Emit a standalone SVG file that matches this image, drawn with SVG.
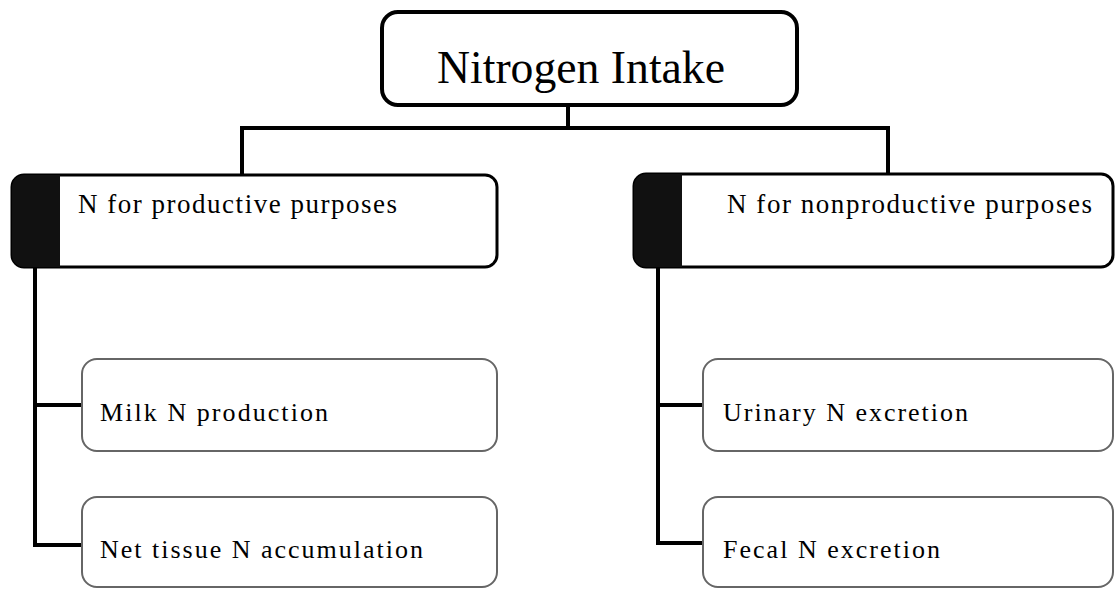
<svg xmlns="http://www.w3.org/2000/svg" width="1115" height="589" viewBox="0 0 1115 589">
<style>
.top{fill:#fff;stroke:#000;stroke-width:4}
.mid{fill:#fff;stroke:#000;stroke-width:3}
.bar{fill:#111}
.sub{fill:#fff;stroke:#666;stroke-width:2}
.conn{fill:none;stroke:#000;stroke-width:4}
text{font-family:'Liberation Serif',Tinos,'Times New Roman',Times,'Noto Serif','DejaVu Serif',FreeSerif,serif;fill:#000}
.t1{font-size:46px}
.t2{font-size:27px}
.t3{font-size:26px}
</style>
<rect width="1115" height="589" fill="#fff"/>
<g id="connectors">
<path class="conn" d="M568 105V128M242 175V128H888V175"/>
<path class="conn" d="M35 267V545H82M35 405H82"/>
<path class="conn" d="M658 267V543H703M658 405H703"/>
</g>
<g id="nitrogen-intake">
<rect class="top" x="382" y="12" width="415" height="93" rx="16"/>
<text class="t1" x="437" y="83" textLength="288" lengthAdjust="spacingAndGlyphs">Nitrogen Intake</text>
</g>
<g id="productive">
<rect class="mid" x="12" y="175" width="485" height="92" rx="12"/>
<path class="bar" d="M24 175H60V267H24A12 12 0 0 1 12 255V187A12 12 0 0 1 24 175Z"/>
<text class="t2" x="78" y="213" textLength="319">N for productive purposes</text>
</g>
<g id="nonproductive">
<rect class="mid" x="634" y="174" width="479" height="93" rx="12"/>
<path class="bar" d="M646 174H682V267H646A12 12 0 0 1 634 255V186A12 12 0 0 1 646 174Z"/>
<text class="t2" x="727" y="213" textLength="365">N for nonproductive purposes</text>
</g>
<g id="milk">
<rect class="sub" x="82" y="359" width="415" height="92" rx="15"/>
<text class="t3" x="100" y="421" textLength="228">Milk N production</text>
</g>
<g id="net-tissue">
<rect class="sub" x="82" y="497" width="415" height="90" rx="15"/>
<text class="t3" x="100" y="558" textLength="323">Net tissue N accumulation</text>
</g>
<g id="urinary">
<rect class="sub" x="703" y="359" width="410" height="92" rx="15"/>
<text class="t3" x="723" y="421" textLength="245">Urinary N excretion</text>
</g>
<g id="fecal">
<rect class="sub" x="703" y="497" width="410" height="90" rx="15"/>
<text class="t3" x="723" y="558" textLength="217">Fecal N excretion</text>
</g>
</svg>
